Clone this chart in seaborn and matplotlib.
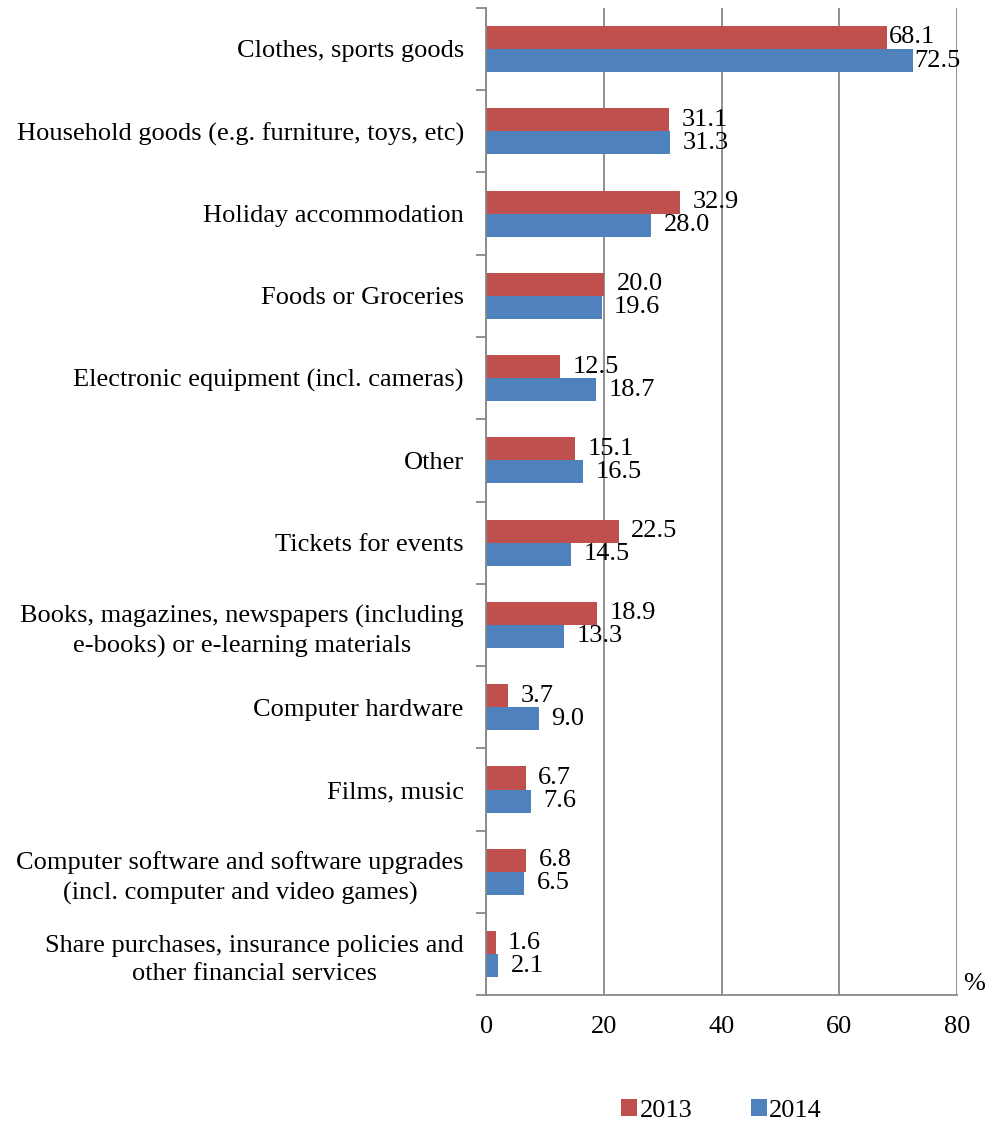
import pandas as pd
import seaborn as sns
import matplotlib.pyplot as plt
from matplotlib.ticker import FixedLocator

sns.set_theme(style="white")
plt.rcParams['font.family'] = ['Liberation Serif', 'DejaVu Serif']
plt.rcParams['text.color'] = 'black'
plt.rcParams['xtick.color'] = 'black'
plt.rcParams['ytick.color'] = 'black'

# Data
categories = [
    "Clothes, sports goods",
    "Household goods (e.g. furniture, toys, etc)",
    "Holiday accommodation",
    "Foods or Groceries",
    "Electronic equipment (incl. cameras)",
    "Other",
    "Tickets for events",
    "Books, magazines, newspapers (including\ne-books) or e-learning materials",
    "Computer hardware",
    "Films, music",
    "Computer software and software upgrades\n(incl. computer and video games)",
    "Share purchases, insurance policies and\nother financial services",
]
values_2013 = [68.1, 31.1, 32.9, 20.0, 12.5, 15.1, 22.5, 18.9, 3.7, 6.7, 6.8, 1.6]
values_2014 = [72.5, 31.3, 28.0, 19.6, 18.7, 16.5, 14.5, 13.3, 9.0, 7.6, 6.5, 2.1]
years = ["2013", "2014"]
colors = ["#C0504D", "#4F81BD"]

df = pd.DataFrame({
    "category": categories * 2,
    "value": values_2013 + values_2014,
    "year": [years[0]] * len(categories) + [years[1]] * len(categories),
})

fig = plt.figure(figsize=(9.92, 11.22), dpi=100)
ax = fig.add_axes([0.49, 0.113, 0.475, 0.88])

sns.barplot(data=df, x="value", y="category", hue="year", hue_order=years,
            palette=colors, orient="h", width=0.56, ax=ax, saturation=1,
            order=categories, legend=True, linewidth=0)

ax.set_xlim(0, 80)
ax.set_ylim(len(categories) - 0.5, -0.5)
ax.set_xticks([0, 20, 40, 60, 80])
ax.set_xlabel("")
ax.set_ylabel("")
ax.grid(axis="x", color="#888888", linewidth=1.3)
ax.set_axisbelow(True)

for s in ["top", "right"]:
    ax.spines[s].set_visible(False)
for s in ["left", "bottom"]:
    ax.spines[s].set_color("#888888")
    ax.spines[s].set_linewidth(1.3)

ax.tick_params(axis="x", which="major", direction="inout", length=14, width=1.3,
               color="#888888", labelsize=19, pad=8)
ax.tick_params(axis="y", which="major", length=0, labelsize=19, pad=16)
ax.yaxis.set_minor_locator(FixedLocator([i - 0.5 for i in range(len(categories) + 1)]))
ax.tick_params(axis="y", which="minor", direction="out", length=7, width=1.3,
               color="#888888", left=True)
for lbl in ax.get_yticklabels():
    lbl.set_horizontalalignment("right")
    lbl.set_multialignment("center")
    lbl.set_linespacing(1.4)

# labels sit ~12px past the bar end, except the longest bars which are squeezed
for container in ax.containers:
    texts = ax.bar_label(container, fmt="%.1f", padding=9, fontsize=19)
    texts[0].xyann = (1, 0)

ax.text(81.0, len(categories) - 0.5, "%", fontsize=19, ha="left", va="bottom")

handles, labels = ax.get_legend_handles_labels()
ax.legend(handles, labels, loc="lower center", bbox_to_anchor=(0.50, -0.152),
          ncol=2, frameon=False, fontsize=19, handlelength=0.6, handleheight=0.6,
          columnspacing=2.2, handletextpad=0.1)

fig.savefig("out.png", dpi=100)
